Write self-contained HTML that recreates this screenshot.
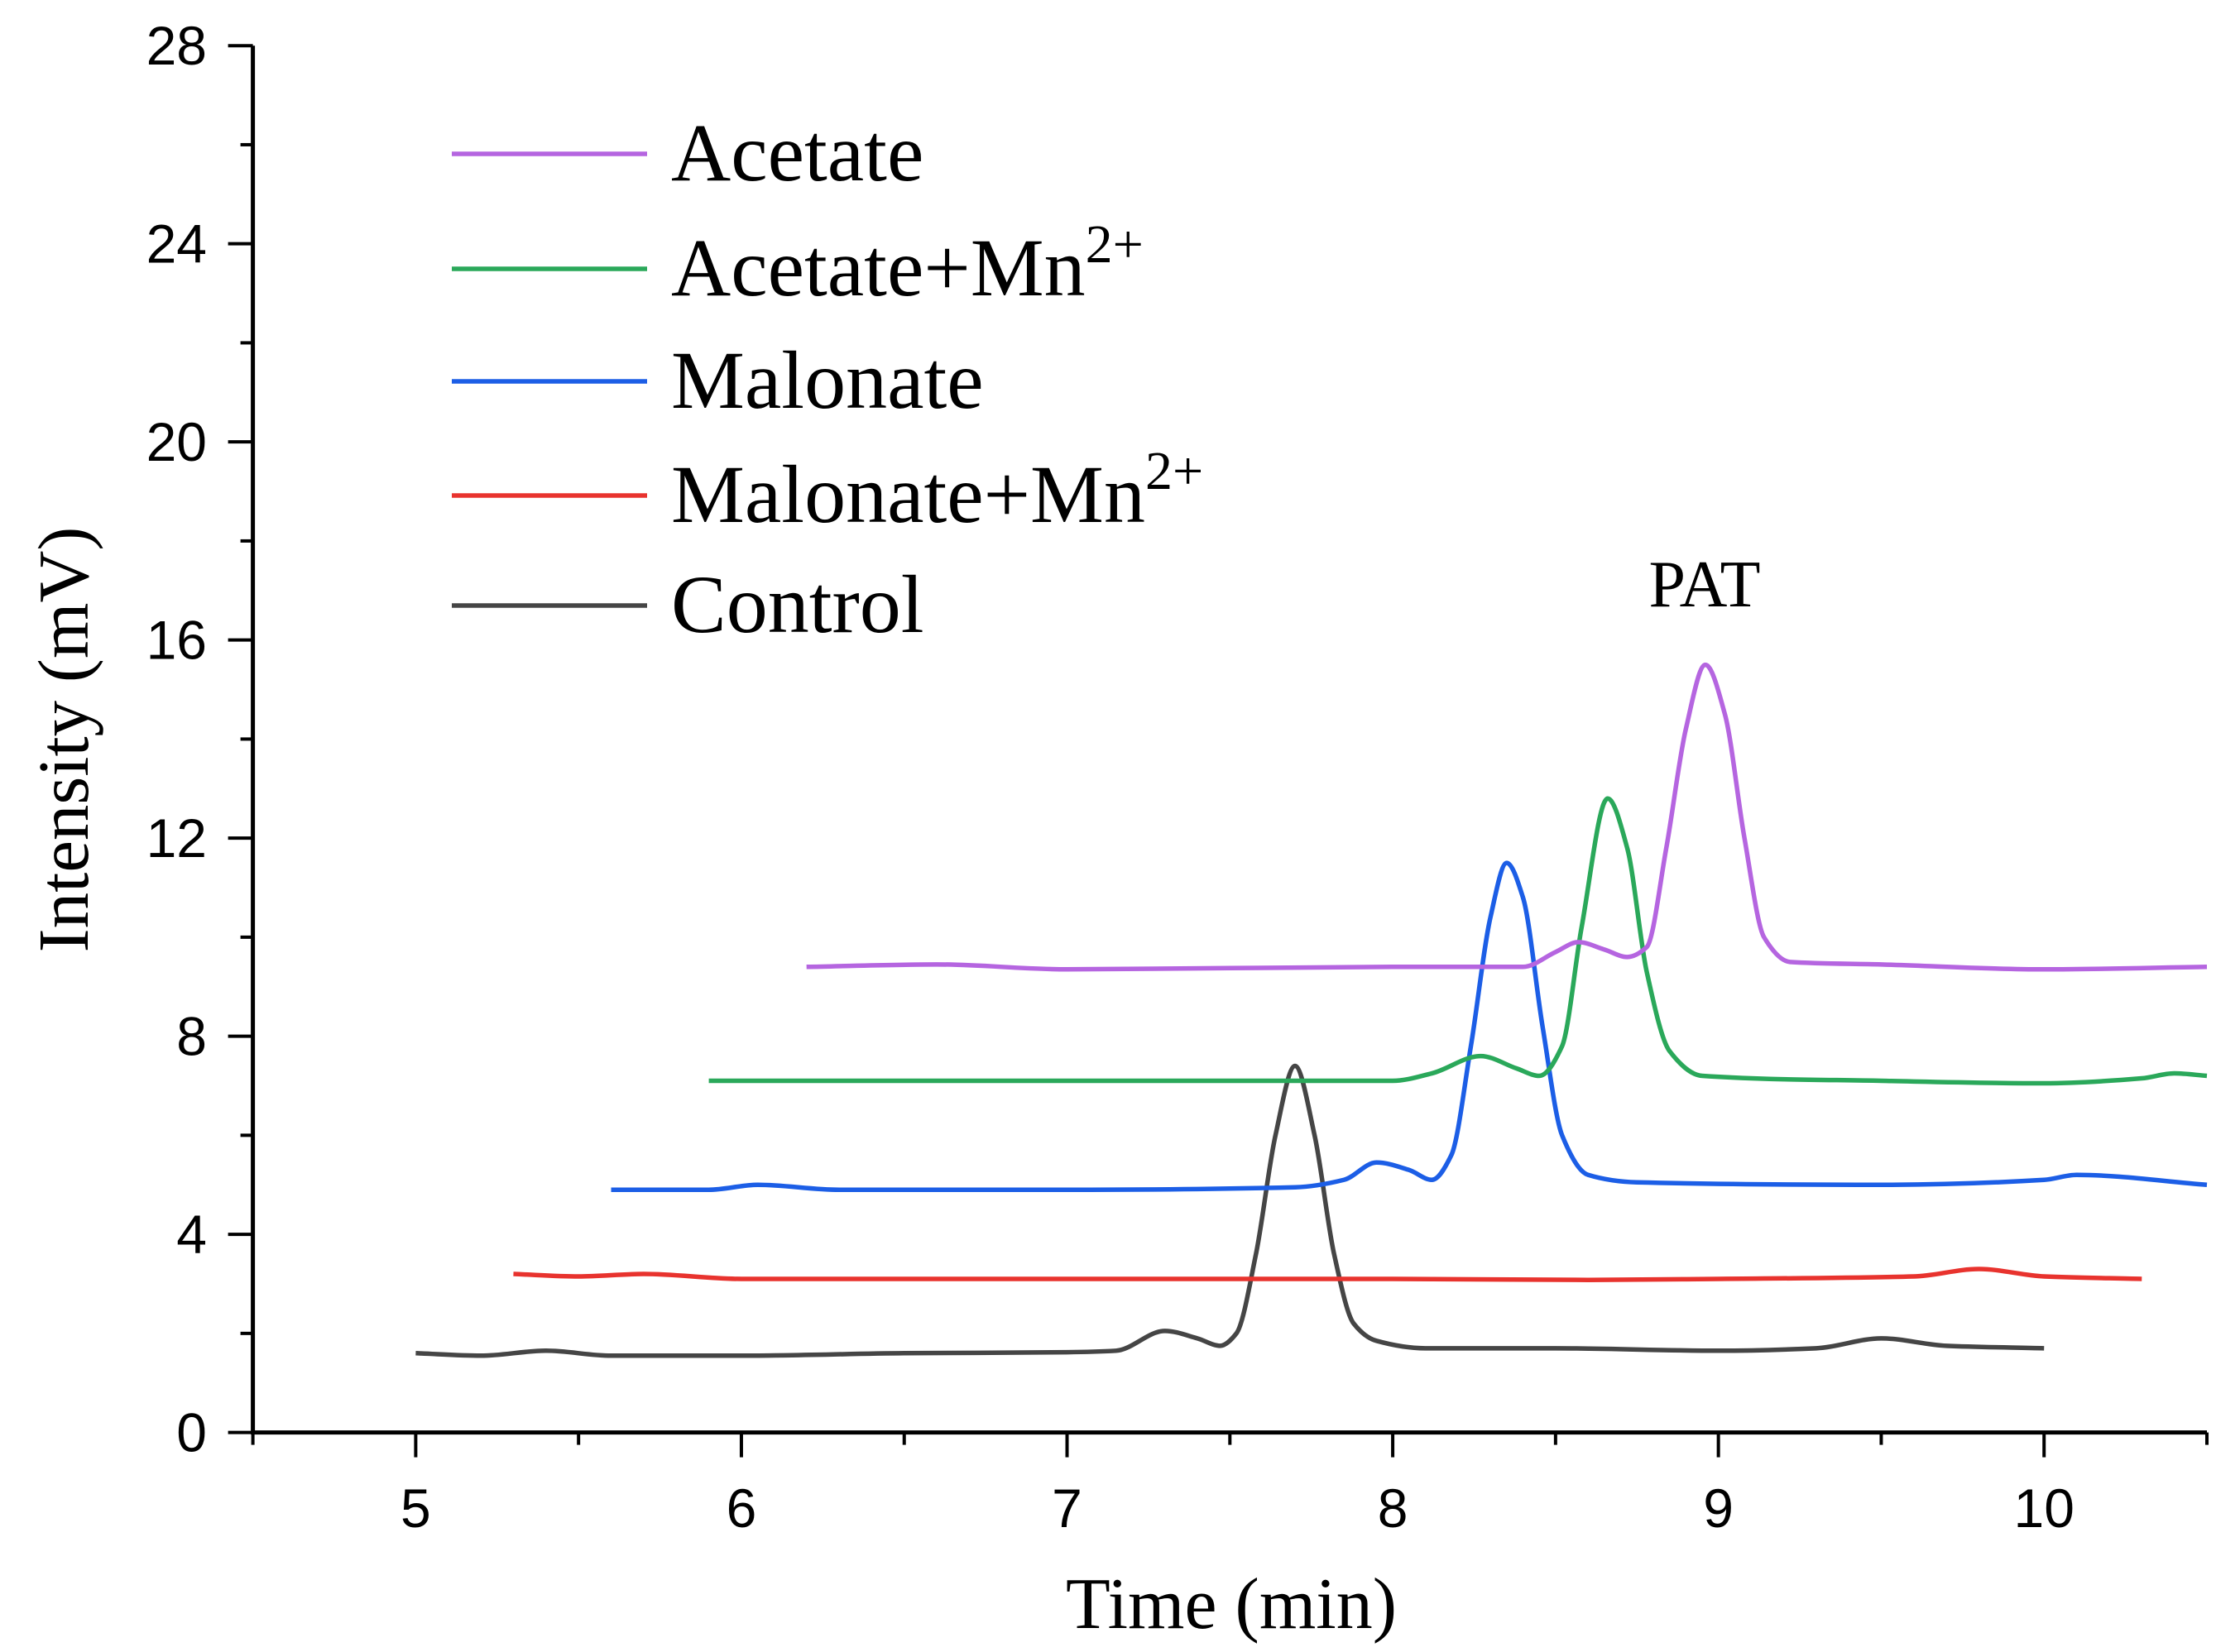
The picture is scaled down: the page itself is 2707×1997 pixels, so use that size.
<!DOCTYPE html>
<html><head><meta charset="utf-8"><style>
html,body{margin:0;padding:0;background:#fff;}
svg{display:block;}
</style></head><body>
<svg id="chart" width="2707" height="1997" viewBox="0 0 2707 1997" xmlns="http://www.w3.org/2000/svg">
<rect width="2707" height="1997" fill="#fff"/>
<g id="plot"></g>
</svg>
<script>
const xTicks = [5,6,7,8,9,10];
const yTicks = [0,4,8,12,16,20,24,28];
const seriesNames = ["Acetate","Acetate+Mn","Malonate","Malonate+Mn","Control"];
const seriesColors = ["#b565e0","#2aa85a","#1c5ee6","#e8332e","#454545"];
const control = [[5,1.6],[5.2,1.55],[5.4,1.65],[5.6,1.55],[6,1.55],[6.5,1.6],[7,1.62],[7.15,1.65],[7.3,2.05],[7.4,1.9],[7.47,1.75],[7.52,2.0],[7.58,3.6],[7.64,6.0],[7.7,7.4],[7.76,6.0],[7.82,3.6],[7.88,2.2],[7.95,1.85],[8.1,1.7],[8.5,1.7],[9,1.65],[9.3,1.7],[9.5,1.9],[9.7,1.75],[10,1.7]];
const malonateMn = [[5.3,3.2],[5.5,3.15],[5.7,3.2],[6,3.1],[7,3.1],[8,3.1],[8.6,3.08],[9,3.1],[9.6,3.15],[9.8,3.3],[10,3.15],[10.3,3.1]];
const malonate = [[5.6,4.9],[5.9,4.9],[6.05,5.0],[6.3,4.9],[7,4.9],[7.7,4.95],[7.85,5.1],[7.95,5.45],[8.05,5.3],[8.12,5.1],[8.18,5.6],[8.24,7.8],[8.3,10.4],[8.35,11.5],[8.4,10.8],[8.46,8.2],[8.52,6.0],[8.6,5.2],[8.75,5.05],[9.5,5.0],[10,5.1],[10.1,5.2],[10.5,5.0]];
const acetateMn = [[5.9,7.1],[6.5,7.1],[7,7.1],[8,7.1],[8.12,7.25],[8.27,7.6],[8.38,7.35],[8.45,7.2],[8.52,7.8],[8.58,10.2],[8.66,12.8],[8.72,11.8],[8.78,9.3],[8.85,7.7],[8.95,7.2],[9.5,7.1],[10,7.05],[10.3,7.15],[10.4,7.25],[10.5,7.2]];
const acetate = [[6.2,9.4],[6.6,9.45],[7,9.35],[8,9.4],[8.4,9.4],[8.5,9.7],[8.57,9.9],[8.65,9.75],[8.72,9.6],[8.78,9.8],[8.84,11.8],[8.9,14.2],[8.96,15.5],[9.02,14.5],[9.08,12.0],[9.14,10.0],[9.22,9.5],[9.5,9.45],[10,9.35],[10.5,9.4]];
const allSeries = [acetate, acetateMn, malonate, malonateMn, control];

const NS="http://www.w3.org/2000/svg";
const X0=305.6, X1=2667, XMIN=4.5, XMAX=10.5, Y0=1731.6, Y1=55.2, YMIN=0, YMAX=28;
function xs(v){return X0+(v-XMIN)/(XMAX-XMIN)*(X1-X0);}
function ys(v){return Y0-(v-YMIN)/(YMAX-YMIN)*(Y0-Y1);}
const g=document.getElementById('plot');
function mk(tag,attrs,parent){const e=document.createElementNS(NS,tag);for(const k in attrs)e.setAttribute(k,attrs[k]);(parent||g).appendChild(e);return e;}

// monotone cubic path
function smooth(pts){
  const p=pts.map(d=>[xs(d[0]),ys(d[1])]);
  const n=p.length, dx=[], s=[], m=[];
  for(let i=0;i<n-1;i++){dx[i]=p[i+1][0]-p[i][0];s[i]=(p[i+1][1]-p[i][1])/dx[i];}
  m[0]=s[0];m[n-1]=s[n-2];
  for(let i=1;i<n-1;i++){
    if(s[i-1]*s[i]<=0)m[i]=0;
    else{const w1=2*dx[i]+dx[i-1],w2=dx[i]+2*dx[i-1];m[i]=(w1+w2)/(w1/s[i-1]+w2/s[i]);}
  }
  let d="M"+p[0][0]+","+p[0][1];
  for(let i=0;i<n-1;i++){
    const h=dx[i]/3;
    d+=" C"+(p[i][0]+h)+","+(p[i][1]+m[i]*h)+" "+(p[i+1][0]-h)+","+(p[i+1][1]-m[i+1]*h)+" "+p[i+1][0]+","+p[i+1][1];
  }
  return d;
}
for(let i=allSeries.length-1;i>=0;i--){
  const el=mk('path',{d:smooth(allSeries[i]),fill:'none',stroke:seriesColors[i],'stroke-width':5.5,'stroke-linejoin':'round'});
  
  
}

// axes
const ax=mk('path',{d:`M${X0},${Y1} L${X0},${Y0} L${X1},${Y0}`,fill:'none',stroke:'#000','stroke-width':5});


for(let v=YMIN;v<=YMAX;v+=2){
  const major=v%4===0;
  const t=mk('line',{x1:X0,x2:X0-(major?30:15),y1:ys(v),y2:ys(v),stroke:'#000','stroke-width':4});
  
  
}
yTicks.forEach(v=>{
  const t=mk('text',{x:250,y:ys(v)+23,'text-anchor':'end','font-family':'Liberation Sans, sans-serif','font-size':66,fill:'#000'});
  t.textContent=v;
  
  
});
for(let v=XMIN;v<=XMAX+0.001;v+=0.5){
  const major=Math.abs(v-Math.round(v))<0.01;
  const t=mk('line',{x1:xs(v),x2:xs(v),y1:Y0,y2:Y0+(major?30:15),stroke:'#000','stroke-width':4});
  
  
}
xTicks.forEach(v=>{
  const t=mk('text',{x:xs(v),y:1846,'text-anchor':'middle','font-family':'Liberation Sans, sans-serif','font-size':66,fill:'#000'});
  t.textContent=v;
  
  
});
const xt=mk('text',{x:1488,y:1968,'text-anchor':'middle','font-family':'Liberation Serif, serif','font-size':88,fill:'#000'});
xt.textContent='Time (min)';


const yt=mk('text',{x:0,y:0,'text-anchor':'middle','font-family':'Liberation Serif, serif','font-size':87,fill:'#000',transform:'translate(106,894) rotate(-90)'});
yt.textContent='Intensity (mV)';


const pat=mk('text',{x:2060,y:733,'text-anchor':'middle','font-family':'Liberation Serif, serif','font-size':80,fill:'#000'});
pat.textContent='PAT';



// legend
const legY=[186,325,461,599,732];
const legLabels=[["Acetate",""],["Acetate+Mn","2+"],["Malonate",""],["Malonate+Mn","2+"],["Control",""]];
legLabels.forEach((l,i)=>{
  const ln=mk('line',{x1:546,x2:782,y1:legY[i],y2:legY[i],stroke:seriesColors[i],'stroke-width':5.5});
  
  
  const t=mk('text',{x:811,y:legY[i]+32,'font-family':'Liberation Serif, serif','font-size':100,fill:'#000'});
  t.textContent=l[0];
  if(l[1]){const s=mk('tspan',{dy:-40,'font-size':66},t);s.textContent=l[1];}
  
  
});
</script>
</body></html>
